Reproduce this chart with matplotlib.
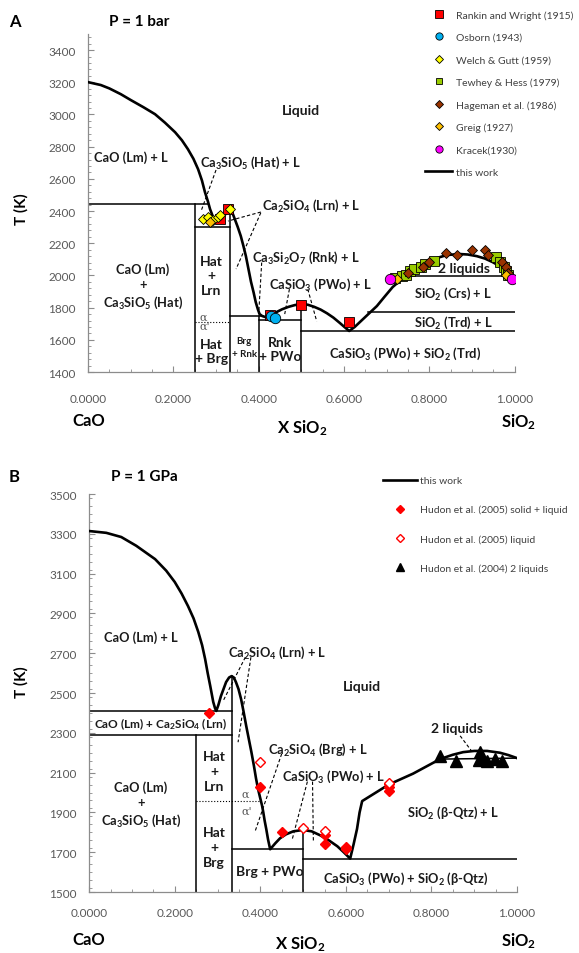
import matplotlib
matplotlib.use("Agg")
import matplotlib.pyplot as plt
from matplotlib.ticker import MultipleLocator, FormatStrFormatter

plt.rcParams['font.family'] = ['Lato', 'DejaVu Sans']
plt.rcParams['mathtext.default'] = 'regular'

LABEL_COLOR = "#1a1a1a"
TICK_COLOR = "#595959"
AXIS_COLOR = "#8c8c8c"

# ---------------- panel A : P = 1 bar ----------------
# calculated liquidus (this work), CaO side -> eutectic -> PWo -> 2-liquid dome
A_liq_x = [0.0, 0.03, 0.05, 0.077, 0.1, 0.13, 0.157, 0.18, 0.204, 0.22, 0.234, 0.247,
           0.258, 0.267, 0.274, 0.281, 0.286, 0.292, 0.297, 0.305, 0.315, 0.325, 0.333,
           0.339, 0.344, 0.351, 0.358, 0.364, 0.37, 0.376, 0.382, 0.388, 0.393, 0.398,
           0.402, 0.408, 0.415, 0.43, 0.44, 0.455, 0.47, 0.485, 0.5, 0.515, 0.53, 0.545,
           0.56, 0.575, 0.59, 0.6, 0.612, 0.625, 0.637, 0.657, 0.677, 0.695, 0.714, 0.73,
           0.745, 0.755, 0.77, 0.794, 0.82, 0.841, 0.871, 0.89, 0.911, 0.93, 0.948,
           0.965, 0.975, 0.985, 0.99, 1.0]
A_liq_T = [3201, 3183, 3162, 3126, 3090, 3045, 3002, 2950, 2890, 2840, 2785, 2725,
           2660, 2590, 2518, 2460, 2412, 2370, 2332, 2340, 2362, 2388, 2400,
           2385, 2350, 2300, 2245, 2185, 2120, 2040, 1960, 1895, 1835, 1790,
           1760, 1748, 1742, 1755, 1770, 1790, 1805, 1816, 1822, 1818, 1805, 1788,
           1765, 1738, 1705, 1682, 1655, 1680, 1710, 1760, 1810, 1868, 1928, 1965,
           1995, 2025, 2055, 2083, 2110, 2127, 2133, 2130, 2120, 2105, 2083,
           2058, 2035, 2010, 1995, 1995]

# experimental data, 1 bar
rankin_x = [0.309, 0.328, 0.426, 0.499, 0.612]
rankin_T = [2349, 2410, 1755, 1815, 1710]
osborn_x = [0.43, 0.438]
osborn_T = [1745, 1733]
welch_x = [0.27, 0.282, 0.293, 0.305, 0.31, 0.333]
welch_T = [2348, 2360, 2342, 2360, 2373, 2410]
tewhey_x = [0.72, 0.735, 0.745, 0.755, 0.765, 0.78, 0.79, 0.81, 0.955, 0.965, 0.975, 0.98, 0.985]
tewhey_T = [1985, 1995, 2005, 2025, 2040, 2055, 2068, 2088, 2112, 2085, 2055, 2025, 2000]
hageman_x = [0.75, 0.785, 0.80, 0.84, 0.864, 0.90, 0.93, 0.937, 0.97, 0.98, 0.984]
hageman_T = [2015, 2055, 2085, 2140, 2125, 2155, 2155, 2125, 2085, 2055, 2015]
greig_x = [0.287, 0.723, 0.98]
greig_T = [2335, 1977, 2000]
kracek_x = [0.707, 0.993]
kracek_T = [1975, 1975]

# ---------------- panel B : P = 1 GPa ----------------
B_liq_x = [0.0, 0.04, 0.075, 0.11, 0.154, 0.18, 0.2, 0.216, 0.231, 0.244, 0.255, 0.264,
           0.271, 0.277, 0.283, 0.29, 0.294, 0.297, 0.302, 0.308, 0.32, 0.327, 0.333,
           0.338, 0.343, 0.349, 0.355, 0.361, 0.367, 0.373, 0.379, 0.385, 0.39, 0.395,
           0.4, 0.404, 0.407, 0.41, 0.414, 0.418, 0.423, 0.435, 0.446, 0.46, 0.477, 0.5,
           0.52, 0.54, 0.56, 0.58, 0.595, 0.61, 0.618, 0.626, 0.632, 0.638, 0.70, 0.757,
           0.82, 0.85, 0.874, 0.9, 0.93, 0.96, 0.98, 1.0]
B_liq_T = [3314, 3305, 3284, 3240, 3173, 3115, 3058, 3000, 2937, 2875, 2807, 2740,
           2671, 2600, 2535, 2455, 2425, 2410, 2440, 2485, 2555, 2578, 2585,
           2578, 2555, 2520, 2470, 2405, 2335, 2270, 2205, 2135, 2070, 2015,
           1970, 1935, 1900, 1860, 1815, 1765, 1715, 1745, 1770, 1790, 1805, 1812,
           1805, 1785, 1760, 1730, 1700, 1668, 1740, 1817, 1900, 1957, 2040, 2095,
           2168, 2190, 2203, 2209, 2209, 2200, 2188, 2173]

hudon_sl_x = [0.28, 0.40, 0.45, 0.55, 0.55, 0.60, 0.60, 0.70, 0.70, 0.70]
hudon_sl_T = [2400, 2030, 1800, 1785, 1740, 1725, 1715, 2045, 2030, 2010]
hudon_liq_x = [0.40, 0.50, 0.55, 0.70]
hudon_liq_T = [2155, 1822, 1808, 2048]
hudon_2l_x = [0.82, 0.857, 0.91, 0.913, 0.918, 0.93, 0.949, 0.965]
hudon_2l_T = [2185, 2160, 2165, 2205, 2170, 2160, 2170, 2160]


def style_axes(ax, ymin, ymax, xpad):
    ax.set_xlim(0, 1)
    ax.set_ylim(ymin, ymax)
    for s in ('top', 'right'):
        ax.spines[s].set_visible(False)
    for s in ('left', 'bottom'):
        ax.spines[s].set_color(AXIS_COLOR)
        ax.spines[s].set_linewidth(0.9)
    ax.xaxis.set_major_locator(MultipleLocator(0.2))
    ax.xaxis.set_minor_locator(MultipleLocator(0.05))
    ax.xaxis.set_major_formatter(FormatStrFormatter('%.4f'))
    ax.yaxis.set_major_locator(MultipleLocator(200))
    ax.yaxis.set_minor_locator(MultipleLocator(40))
    ax.tick_params(which='both', direction='in', color=AXIS_COLOR, labelcolor=TICK_COLOR,
                   labelsize=8.5)
    ax.tick_params(which='major', length=4)
    ax.tick_params(which='minor', length=2.5)
    ax.tick_params(axis='x', pad=xpad)
    ax.tick_params(axis='y', pad=9)
    ax.set_facecolor('none')


def hline(ax, y, x0, x1, lw=1.1, ls='-'):
    ax.plot([x0, x1], [y, y], color='black', lw=lw, ls=ls)


def vline(ax, x, y0, y1):
    ax.plot([x, x], [y0, y1], color='black', lw=1.1)


def leader(ax, x0, y0, x1, y1):
    ax.plot([x0, x1], [y0, y1], color='black', lw=0.8, ls=(0, (3, 2)))


def label(ax, x, y, s, size=9.3, **kw):
    ax.text(x, y, s, ha='center', va='center', fontsize=size, fontweight='bold',
            color=LABEL_COLOR, **kw)


def greek(ax, x, y, s):
    ax.text(x, y, s, fontsize=8, color='#595959', family='DejaVu Serif', va='center')


fig = plt.figure(figsize=(5.79, 9.54), dpi=100)
axA = fig.add_axes([0.152, 0.609, 0.737, 0.3543])
axB = fig.add_axes([0.154, 0.0639, 0.739, 0.4172])

# ================= panel A =================
ax = axA
style_axes(ax, 1400, 3500, 15)
ax.set_yticks(range(1400, 3401, 200))

hline(ax, 2443, 0, 0.281)
vline(ax, 0.25, 1400, 2443)
hline(ax, 2300, 0.25, 0.333)
vline(ax, 0.333, 1400, 2400)
hline(ax, 1710, 0.25, 0.333, lw=0.8, ls=':')
hline(ax, 1748, 0.333, 0.41)
vline(ax, 0.40, 1400, 1748)
hline(ax, 1725, 0.40, 0.5)
vline(ax, 0.5, 1400, 1822)
hline(ax, 1652, 0.5, 1.0)
hline(ax, 1773, 0.655, 1.0)
hline(ax, 1995, 0.745, 1.0)

this_work, = ax.plot(A_liq_x, A_liq_T, color='black', lw=1.9, label='this work', zorder=3)

leader(ax, 0.30, 2655, 0.265, 2400)
leader(ax, 0.405, 2394, 0.328, 2338)
leader(ax, 0.405, 2390, 0.347, 2040)
leader(ax, 0.407, 2080, 0.40, 1760)
leader(ax, 0.472, 1915, 0.461, 1760)
leader(ax, 0.515, 1915, 0.536, 1715)

mk = dict(ls='none', markeredgecolor='black', markeredgewidth=0.6, zorder=5)
hA = []
hA.append(ax.plot(rankin_x, rankin_T, marker='s', ms=7.5, color='#ff0000', label='Rankin and Wright (1915)', **mk)[0])
hA.append(ax.plot(osborn_x, osborn_T, marker='o', ms=7.5, color='#00b0f0', label='Osborn (1943)', **mk)[0])
hA.append(ax.plot(welch_x, welch_T, marker='D', ms=5.5, color='#ffff00', label='Welch & Gutt (1959)', **mk)[0])
hA.append(ax.plot(tewhey_x, tewhey_T, marker='s', ms=7.0, color='#99cc00', label='Tewhey & Hess (1979)', **mk)[0])
hA.append(ax.plot(hageman_x, hageman_T, marker='D', ms=5.5, color='#993300', label='Hageman et al. (1986)', **mk)[0])
hA.append(ax.plot(greig_x, greig_T, marker='D', ms=5.5, color='#ffc000', label='Greig (1927)', **mk)[0])
hA.append(ax.plot(kracek_x, kracek_T, marker='o', ms=7.5, color='#ff00ff', label='Kracek(1930)', **mk)[0])
hA.append(this_work)

ax.legend(handles=hA, loc='upper left', bbox_to_anchor=(0.7254, 0.9937),
          bbox_transform=fig.transFigure, frameon=False, fontsize=7.5, borderpad=0,
          handlelength=2.6, handletextpad=0.4, labelspacing=1.25, markerscale=0.7,
          labelcolor='#404040')

label(ax, 0.5, 3030, 'Liquid', size=10)
label(ax, 0.10, 2735, 'CaO (Lm) + L')
label(ax, 0.38, 2705, 'Ca$_3$SiO$_5$ (Hat) + L')
label(ax, 0.524, 2440, 'Ca$_2$SiO$_4$ (Lrn) + L')
label(ax, 0.51, 2115, 'Ca$_3$Si$_2$O$_7$ (Rnk) + L')
label(ax, 0.545, 1950, 'CaSiO$_3$ (PWo) + L')
label(ax, 0.129, 1935, 'CaO (Lm)\n+\nCa$_3$SiO$_5$ (Hat)', linespacing=1.3)
label(ax, 0.288, 2000, 'Hat\n+\nLrn', size=10, linespacing=1.25)
label(ax, 0.29, 1530, 'Hat\n+ Brg', size=10, linespacing=1.2)
label(ax, 0.366, 1555, 'Brg\n+ Rnk', size=7, linespacing=1.5)
label(ax, 0.45, 1540, 'Rnk\n+ PWo', size=10, linespacing=1.2)
label(ax, 0.88, 2045, '2 liquids', size=10)
label(ax, 0.855, 1893, 'SiO$_2$ (Crs) + L')
label(ax, 0.855, 1712, 'SiO$_2$ (Trd) + L')
label(ax, 0.743, 1522, 'CaSiO$_3$ (PWo) + SiO$_2$ (Trd)')
greek(ax, 0.262, 1745, 'α')
greek(ax, 0.262, 1690, "α'")

# ================= panel B =================
ax = axB
style_axes(ax, 1500, 3500, 11)
ax.set_yticks(range(1500, 3501, 200))

hline(ax, 2410, 0, 0.333)
hline(ax, 2290, 0, 0.333)
vline(ax, 0.25, 1500, 2290)
vline(ax, 0.333, 1500, 2585)
hline(ax, 1957, 0.25, 0.40, lw=0.8, ls=':')
hline(ax, 1716, 0.333, 0.5)
vline(ax, 0.5, 1500, 1812)
hline(ax, 1668, 0.5, 1.0)
ax.plot([0.82, 1.0], [2168, 2173], color='black', lw=1.1)

this_work_b, = ax.plot(B_liq_x, B_liq_T, color='black', lw=1.9, label='this work', zorder=3)

leader(ax, 0.365, 2680, 0.313, 2460)
leader(ax, 0.378, 2680, 0.348, 2253)
leader(ax, 0.45, 2195, 0.388, 1806)
leader(ax, 0.51, 2055, 0.474, 1760)
leader(ax, 0.522, 2055, 0.524, 1755)
leader(ax, 0.867, 2285, 0.895, 2205)

hB = [this_work_b]
hB.append(ax.plot(hudon_sl_x, hudon_sl_T, ls='none', marker='D', ms=5.5, color='#ff0000',
                  markeredgecolor='#ff0000', label='Hudon et al. (2005) solid + liquid', zorder=5)[0])
hB.append(ax.plot(hudon_liq_x, hudon_liq_T, ls='none', marker='D', ms=5.5, markerfacecolor='white',
                  markeredgecolor='#ff0000', markeredgewidth=1.0,
                  label='Hudon et al. (2005) liquid', zorder=5)[0])
hB.append(ax.plot(hudon_2l_x, hudon_2l_T, ls='none', marker='^', ms=8, color='black',
                  label='Hudon et al. (2004) 2 liquids', zorder=5)[0])

ax.legend(handles=hB, loc='upper left', bbox_to_anchor=(0.653, 0.5055),
          bbox_transform=fig.transFigure, frameon=False, fontsize=7.5, borderpad=0,
          handlelength=3.2, handletextpad=0.3, labelspacing=1.88, markerscale=0.8,
          labelcolor='#404040')

label(ax, 0.121, 2781, 'CaO (Lm) + L')
label(ax, 0.44, 2706, 'Ca$_2$SiO$_4$ (Lrn) + L')
label(ax, 0.637, 2535, 'Liquid', size=10)
label(ax, 0.535, 2220, 'Ca$_2$SiO$_4$ (Brg) + L')
label(ax, 0.57, 2085, 'CaSiO$_3$ (PWo) + L')
label(ax, 0.166, 2350, 'CaO (Lm) + Ca$_2$SiO$_4$ (Lrn)', size=8.6)
label(ax, 0.121, 1940, 'CaO (Lm)\n+\nCa$_3$SiO$_5$ (Hat)', linespacing=1.3)
label(ax, 0.292, 2110, 'Hat\n+\nLrn', size=10, linespacing=1.3)
label(ax, 0.292, 1725, 'Hat\n+\nBrg', size=10, linespacing=1.3)
label(ax, 0.423, 1605, 'Brg + PWo', size=10)
label(ax, 0.74, 1570, 'CaSiO$_3$ (PWo) + SiO$_2$ (β-Qtz)')
label(ax, 0.85, 1905, 'SiO$_2$ (β-Qtz) + L')
label(ax, 0.86, 2325, '2 liquids', size=10)
greek(ax, 0.357, 1995, 'α')
greek(ax, 0.357, 1907, "α'")

# ---------------- figure-level labels ----------------
fig.text(0.026, 0.977, 'A', fontsize=12, fontweight='bold', ha='center', va='center')
fig.text(0.24, 0.977, 'P = 1 bar', fontsize=11, fontweight='bold', ha='center', va='center')
fig.text(0.036, 0.781, 'T (K)', fontsize=11, fontweight='bold', rotation=90, ha='center', va='center')
fig.text(0.154, 0.559, 'CaO', fontsize=12, fontweight='bold', ha='center', va='center')
fig.text(0.522, 0.551, 'X SiO$_2$', fontsize=12, fontweight='bold', ha='center', va='center')
fig.text(0.895, 0.557, 'SiO$_2$', fontsize=12, fontweight='bold', ha='center', va='center')

fig.text(0.024, 0.500, 'B', fontsize=12, fontweight='bold', ha='center', va='center')
fig.text(0.249, 0.500, 'P = 1 GPa', fontsize=11, fontweight='bold', ha='center', va='center')
fig.text(0.036, 0.285, 'T (K)', fontsize=11, fontweight='bold', rotation=90, ha='center', va='center')
fig.text(0.154, 0.015, 'CaO', fontsize=12, fontweight='bold', ha='center', va='center')
fig.text(0.518, 0.010, 'X SiO$_2$', fontsize=12, fontweight='bold', ha='center', va='center')
fig.text(0.895, 0.013, 'SiO$_2$', fontsize=12, fontweight='bold', ha='center', va='center')

fig.savefig('out.png', dpi=100)
